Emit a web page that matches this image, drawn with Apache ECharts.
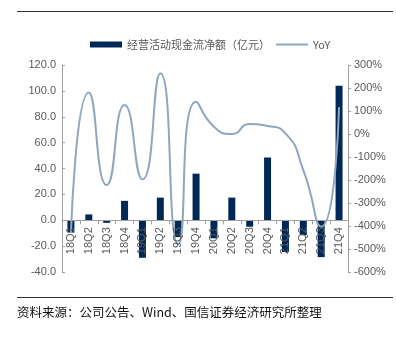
<!DOCTYPE html>
<html><head><meta charset="utf-8">
<script src="https://cdn.jsdelivr.net/npm/echarts@6/dist/echarts.min.js"></script>
<style>html,body{margin:0;padding:0;background:#fff}#c{width:396px;height:343px}</style>
</head><body><div id="c"></div>
<script>
const categories = ['18Q1','18Q2','18Q3','18Q4','19Q1','19Q2','19Q3','19Q4','20Q1','20Q2','20Q3','20Q4','21Q1','21Q2','21Q3','21Q4'];
const cashFlow = [-9.5, 4.5, -2, 15, -29, 17.5, -13, 36, -14, 17.5, -5, 48.5, -24.5, -11.5, -28.5, 104];
const yoy = [-430, 180, -222, 126, -197, 264, -480, 140, 32, 0, 43, 35, 3, -157, -403, 116];
const leftTicks = {min: -40, max: 120, interval: 20};
const rightTicks = {min: -600, max: 300, interval: 100};
const barName = '经营活动现金流净额（亿元）';
const lineName = 'YoY';
const sourceText = '资料来源：公司公告、Wind、国信证券经济研究所整理';

const gridTop = 65, gridBottom = 71, H = 343;
const plotH = H - gridTop - gridBottom;
// move the category axis up to the left axis' zero line
const zeroOffset = -plotH * (0 - leftTicks.min) / (leftTicks.max - leftTicks.min);

const chart = echarts.init(document.getElementById('c'), null, {renderer: 'canvas'});
const axisColor = '#a0a0a0';
const labelColor = '#595959';
chart.setOption({
  animation: false,
  textStyle: {fontFamily: 'Liberation Sans, Arial, sans-serif'},
  grid: {left: 62, right: 48, top: gridTop, bottom: gridBottom, containLabel: false},
  legend: {
    left: 85, top: 34, itemGap: 5, itemTextGap: 5, itemWidth: 32, itemHeight: 6,
    textStyle: {color: labelColor, fontSize: 11, fontFamily: 'Noto Sans CJK SC, Liberation Sans, sans-serif'},
    data: [{name: barName, icon: 'rect'}, {name: lineName, itemStyle: {opacity: 0}}]
  },
  xAxis: {
    type: 'category', data: categories, z: 10, offset: zeroOffset,
    axisLine: {onZero: false, lineStyle: {color: axisColor, width: 1}},
    axisTick: {show: true, length: 4, inside: false, lineStyle: {color: axisColor}},
    axisLabel: {rotate: 90, fontSize: 11, color: labelColor, margin: 7, interval: 0}
  },
  yAxis: [
    {type: 'value', min: leftTicks.min, max: leftTicks.max, interval: leftTicks.interval,
     splitLine: {show: false},
     axisLine: {show: true, lineStyle: {color: axisColor}},
     axisTick: {show: true, inside: true, length: 3, lineStyle: {color: axisColor}},
     axisLabel: {fontSize: 11, color: labelColor, margin: 6, formatter: v => v.toFixed(1)}},
    {type: 'value', min: rightTicks.min, max: rightTicks.max, interval: rightTicks.interval,
     splitLine: {show: false},
     axisLine: {show: true, lineStyle: {color: axisColor}},
     axisTick: {show: true, inside: false, length: 3, lineStyle: {color: axisColor}},
     axisLabel: {fontSize: 11, color: labelColor, margin: 6, formatter: v => v + '%'}}
  ],
  series: [
    {name: barName, type: 'bar', data: cashFlow, yAxisIndex: 0, barWidth: 7,
     itemStyle: {color: '#002856'}},
    {name: lineName, type: 'line', data: yoy, yAxisIndex: 1, smooth: 0.6,
     symbol: 'none', lineStyle: {color: '#8ea6bf', width: 2}, itemStyle: {color: '#8ea6bf'}, z: 3}
  ],
  graphic: [
    {type: 'line', shape: {x1: 17, y1: 11.5, x2: 393, y2: 11.5}, style: {stroke: '#333', lineWidth: 1}},
    {type: 'line', shape: {x1: 17, y1: 297.5, x2: 393, y2: 297.5}, style: {stroke: '#333', lineWidth: 1}},
    {type: 'text', left: 17, top: 306, style: {text: sourceText, fontSize: 12.5, fill: '#111', fontFamily: 'Noto Sans CJK SC, sans-serif'}}
  ]
});
</script></body></html>
